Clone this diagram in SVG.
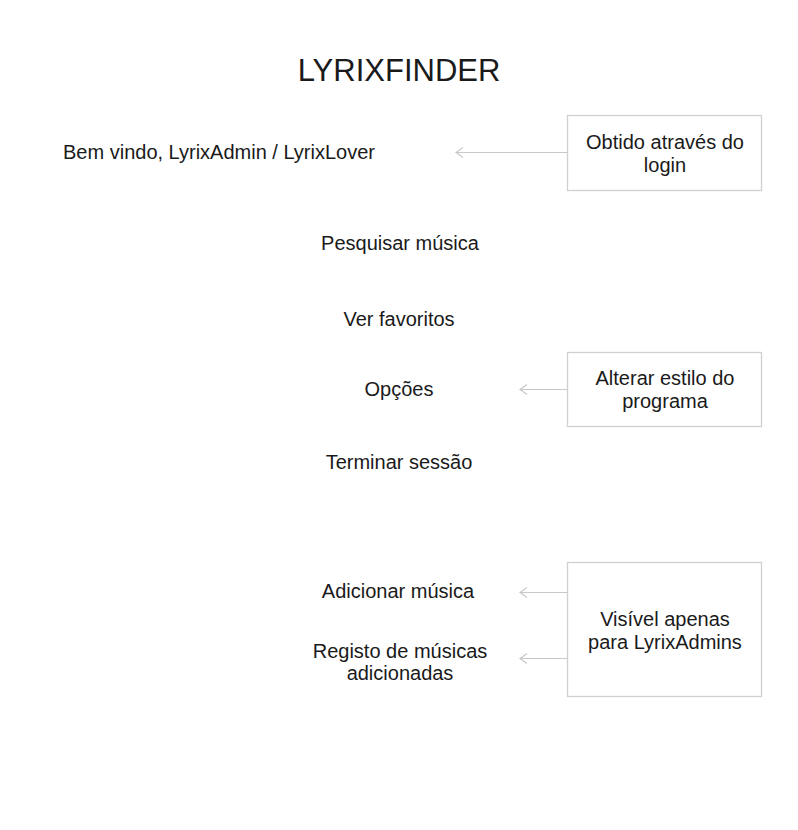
<svg xmlns="http://www.w3.org/2000/svg" width="798" height="830" viewBox="0 0 798 830">
<defs>
<style>
.t{font-family:"Liberation Sans",Arial,sans-serif;font-size:20px;fill:#1a1a1a;text-anchor:middle}
.title{font-size:31px}
.box{fill:#ffffff;stroke:#d0d0d0;stroke-width:1.3}
.edge{fill:none;stroke:#c8c8c8;stroke-width:1.2}
</style>
<marker id="arr" viewBox="0 0 10 12" refX="9" refY="6" markerWidth="10" markerHeight="12" markerUnits="userSpaceOnUse" orient="auto">
<path d="M2,1 L9,6 L2,11" fill="none" stroke="#c8c8c8" stroke-width="1.2"/>
</marker>
</defs>
<rect width="798" height="830" fill="#ffffff"/>
<g id="title"><text class="t title" x="399" y="81">LYRIXFINDER</text></g>
<g id="welcome"><text class="t" x="219" y="159">Bem vindo, LyrixAdmin / LyrixLover</text></g>
<g id="search"><text class="t" x="400" y="250">Pesquisar música</text></g>
<g id="favorites"><text class="t" x="399" y="326">Ver favoritos</text></g>
<g id="options"><text class="t" x="399" y="396">Opções</text></g>
<g id="logout"><text class="t" x="399" y="469">Terminar sessão</text></g>
<g id="addsong"><text class="t" x="398" y="598">Adicionar música</text></g>
<g id="registry"><text class="t" x="400" y="658">Registo de músicas</text><text class="t" x="400" y="680">adicionadas</text></g>
<g id="note-login"><rect class="box" x="567.5" y="115.5" width="194" height="75"/><text class="t" x="665" y="149">Obtido através do</text><text class="t" x="665" y="172">login</text></g>
<g id="note-style"><rect class="box" x="567.5" y="352.5" width="194" height="74"/><text class="t" x="665" y="385">Alterar estilo do</text><text class="t" x="665" y="408">programa</text></g>
<g id="note-admins"><rect class="box" x="567.5" y="562.5" width="194" height="134"/><text class="t" x="665" y="626">Visível apenas</text><text class="t" x="665" y="649">para LyrixAdmins</text></g>
<g id="connectors">
<line class="edge" x1="567" y1="152.5" x2="456" y2="152.5" marker-end="url(#arr)"/>
<line class="edge" x1="567" y1="389.5" x2="520" y2="389.5" marker-end="url(#arr)"/>
<line class="edge" x1="567" y1="592.5" x2="520" y2="592.5" marker-end="url(#arr)"/>
<line class="edge" x1="567" y1="658.5" x2="520" y2="658.5" marker-end="url(#arr)"/>
</g>
</svg>
